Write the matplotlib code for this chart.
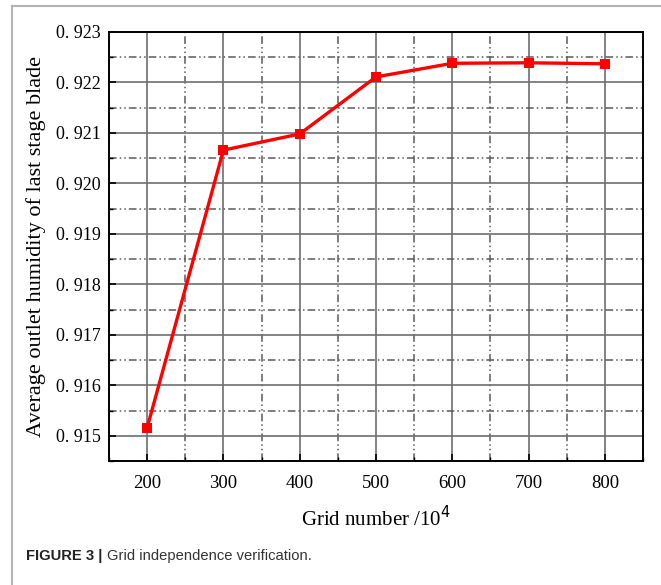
import matplotlib.pyplot as plt
from matplotlib.lines import Line2D
from matplotlib.ticker import MultipleLocator

# data
grid_number = [200, 300, 400, 500, 600, 700, 800]
humidity = [0.91516, 0.92066, 0.92098, 0.92211, 0.92238, 0.92239, 0.92237]

x_ticks = [200, 300, 400, 500, 600, 700, 800]
y_ticks = [0.915, 0.916, 0.917, 0.918, 0.919, 0.920, 0.921, 0.922, 0.923]
y_tick_labels = ["0. 915", "0. 916", "0. 917", "0. 918", "0. 919",
                 "0. 920", "0. 921", "0. 922", "0. 923"]

serif = ["Liberation Serif", "DejaVu Serif"]

fig = plt.figure(figsize=(6.61, 5.85), dpi=100)
ax = fig.add_axes([109 / 661, 1 - 461 / 585, (643 - 109) / 661, (461 - 32) / 585])

ax.plot(grid_number, humidity, color="#ff0000", lw=2.4, marker="s",
        markersize=6.5, markeredgewidth=0, zorder=5, clip_on=False)

ax.set_xlim(150, 850)
ax.set_ylim(0.9145, 0.923)
ax.set_xticks(x_ticks)
ax.set_xticklabels([str(v) for v in x_ticks], family=serif, fontsize=13.5)
ax.set_yticks(y_ticks)
ax.set_yticklabels(y_tick_labels, family=serif, fontsize=13)
ax.xaxis.set_minor_locator(MultipleLocator(50))
ax.yaxis.set_minor_locator(MultipleLocator(0.0005))

ax.grid(which="major", color="#6e6e6e", lw=1.2, ls="-")
ax.grid(which="minor", color="#5a5a5a", lw=1.1, ls=(0, (5, 2, 1, 2, 1, 2)))
ax.set_axisbelow(True)

ax.tick_params(which="major", direction="in", length=5, width=1.2,
               top=False, right=False, colors="black")
ax.tick_params(which="minor", direction="in", length=3, width=1.0,
               top=False, right=False)
ax.tick_params(axis="x", pad=10)
ax.tick_params(axis="y", pad=6)
for s in ax.spines.values():
    s.set_linewidth(1.4)

ax.set_xlabel("Grid number /10$^4$", family=serif, fontsize=15, labelpad=10)
ax.set_ylabel("Average outlet humidity of last stage blade", family=serif,
              fontsize=16)
ax.yaxis.set_label_coords(-0.118, 0.5)

# page frame and caption
fig.add_artist(Line2D([12 / 661, 1], [1 - 6 / 585, 1 - 6 / 585],
                      transform=fig.transFigure, color="#b4b4b4", lw=1.5))
fig.add_artist(Line2D([12 / 661, 12 / 661], [0, 1 - 6 / 585],
                      transform=fig.transFigure, color="#b4b4b4", lw=1.5))
cap_y = 1 - 556 / 585
t1 = fig.text(26 / 661, cap_y, "FIGURE 3 |", family="Liberation Sans",
              fontsize=10.6, fontweight="bold", va="center", color="#222222")
fig.canvas.draw()
bb = t1.get_window_extent()
fig.text((bb.x1 + 5) / 661, cap_y, "Grid independence verification.",
         family="Liberation Sans", fontsize=10.6, va="center", color="#333333")

fig.savefig("out.png", dpi=100)
